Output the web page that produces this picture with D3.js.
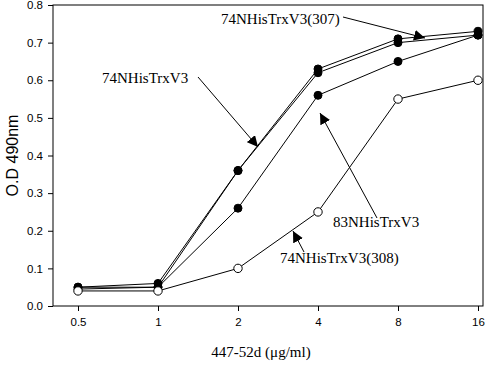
<!DOCTYPE html>
<html>
<head>
<meta charset="utf-8">
<script src="https://cdn.jsdelivr.net/npm/d3@7"></script>
<style>
  body { margin: 0; background: #fff; }
  svg { display: block; }
</style>
</head>
<body>
<div id="chart"></div>
<script>
// concentrations (x values)
var conc = [0.5, 1, 2, 4, 8, 16];
var xTicks = [0.5, 1, 2, 4, 8, 16];
var yTicks = [0, 0.1, 0.2, 0.3, 0.4, 0.5, 0.6, 0.7, 0.8];

// O.D values per series
var s74 = [0.05, 0.05, 0.36, 0.62, 0.70, 0.72];
var s307 = [0.05, 0.06, 0.36, 0.63, 0.71, 0.73];
var s83 = [0.045, 0.05, 0.26, 0.56, 0.65, 0.72];
var s308 = [0.04, 0.04, 0.10, 0.25, 0.55, 0.60];

var series = [
  { name: "74NHisTrxV3", values: s74, open: false },
  { name: "74NHisTrxV3(307)", values: s307, open: false },
  { name: "83NHisTrxV3", values: s83, open: false },
  { name: "74NHisTrxV3(308)", values: s308, open: true }
];

var w = 486, h = 366;
// plot frame (note: "top" is reserved on window, so use plot* names)
var plotL = 53, plotR = 483, plotT = 5, plotB = 306;

var svg = d3.select("#chart").append("svg")
  .attr("width", w)
  .attr("height", h);

var xScale = d3.scaleLog().base(2)
  .domain([0.5, 16])
  .range([78, 478]);

var yScale = d3.scaleLinear()
  .domain([0, 0.8])
  .range([plotB, plotT]);

// frame
svg.append("rect")
  .attr("x", plotL).attr("y", plotT)
  .attr("width", plotR - plotL).attr("height", plotB - plotT)
  .attr("fill", "none").attr("stroke", "#000").attr("stroke-width", 1);

// axes
var xAxis = svg.append("g")
  .attr("transform", "translate(0," + plotB + ")")
  .call(d3.axisBottom(xScale).tickValues(xTicks).tickSize(5).tickPadding(7)
    .tickFormat(function(d) { return d; }));
xAxis.select(".domain").remove();

var yAxis = svg.append("g")
  .attr("transform", "translate(" + plotL + ",0)")
  .call(d3.axisLeft(yScale).tickValues(yTicks).tickSize(5).tickPadding(5)
    .tickFormat(d3.format(".1f")));
yAxis.select(".domain").remove();

svg.selectAll(".tick text")
  .style("font-family", "Liberation Sans, Arial, sans-serif")
  .style("font-size", "11.5px")
  .attr("fill", "#000");
svg.selectAll(".tick line").attr("stroke", "#000");

// axis titles
svg.append("text")
  .attr("transform", "translate(18," + ((plotT + plotB) / 2) + ") rotate(-90)")
  .attr("text-anchor", "middle")
  .style("font-family", "Liberation Sans, Arial, sans-serif")
  .style("font-size", "16px")
  .text("O.D 490nm");

svg.append("text")
  .attr("x", 261).attr("y", 357)
  .attr("text-anchor", "middle")
  .style("font-family", "Liberation Serif, Times New Roman, serif")
  .style("font-size", "15px")
  .text("447-52d (\u03bcg/ml)");

// lines
var line = d3.line()
  .x(function(d, i) { return xScale(conc[i]); })
  .y(function(d) { return yScale(d); });

svg.selectAll("path.series")
  .data(series)
  .enter()
  .append("path")
  .attr("class", "series")
  .attr("d", function(d) { return line(d.values); })
  .attr("fill", "none")
  .attr("stroke", "#000")
  .attr("stroke-width", 1);

// markers
series.forEach(function(s) {
  svg.selectAll(null)
    .data(s.values)
    .enter()
    .append("circle")
    .attr("cx", function(d, i) { return xScale(conc[i]); })
    .attr("cy", function(d) { return yScale(d); })
    .attr("r", s.open ? 4.2 : 4)
    .attr("fill", s.open ? "#fff" : "#000")
    .attr("stroke", "#000")
    .attr("stroke-width", 1);
});

// annotations
svg.append("defs").append("marker")
  .attr("id", "arrow")
  .attr("viewBox", "0 0 10 10")
  .attr("refX", 10).attr("refY", 5)
  .attr("markerWidth", 11).attr("markerHeight", 11)
  .attr("markerUnits", "userSpaceOnUse")
  .attr("orient", "auto")
  .append("path")
  .attr("d", "M0,0 L10,5 L0,10 Z")
  .attr("fill", "#000");

var notes = [
  { text: "74NHisTrxV3(307)", tx: 221, ty: 24, x1: 343, y1: 17, x2: 425, y2: 38 },
  { text: "74NHisTrxV3", tx: 102, ty: 83, x1: 198, y1: 77, x2: 258, y2: 147 },
  { text: "83NHisTrxV3", tx: 333, ty: 227, x1: 377, y1: 218, x2: 320, y2: 113 },
  { text: "74NHisTrxV3(308)", tx: 280, ty: 263, x1: 304, y1: 252, x2: 293, y2: 231 }
];

svg.selectAll("line.note")
  .data(notes)
  .enter()
  .append("line")
  .attr("class", "note")
  .attr("x1", function(d) { return d.x1; })
  .attr("y1", function(d) { return d.y1; })
  .attr("x2", function(d) { return d.x2; })
  .attr("y2", function(d) { return d.y2; })
  .attr("stroke", "#000")
  .attr("stroke-width", 1)
  .attr("marker-end", "url(#arrow)");

svg.selectAll("text.note")
  .data(notes)
  .enter()
  .append("text")
  .attr("class", "note")
  .attr("x", function(d) { return d.tx; })
  .attr("y", function(d) { return d.ty; })
  .style("font-family", "Liberation Serif, Times New Roman, serif")
  .style("font-size", "15px")
  .text(function(d) { return d.text; });
</script>
</body>
</html>
